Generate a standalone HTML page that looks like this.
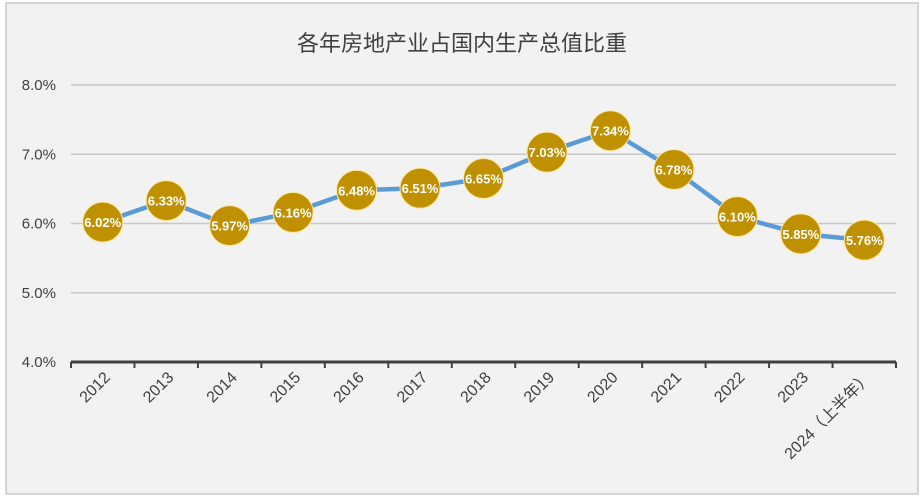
<!DOCTYPE html>
<html><head><meta charset="utf-8"><style>
body{margin:0;background:#fff;}
svg{display:block;font-family:"Liberation Sans","Noto Sans CJK SC",sans-serif;}
</style></head><body>
<svg id="chart" width="924" height="501">
<rect x="6" y="3" width="912" height="491" fill="#F2F2F2" stroke="#C8C8C8" stroke-width="1.5"/>
<text x="462" y="51" text-anchor="middle" font-size="22" fill="#404040">各年房地产业占国内生产总值比重</text>
<g id="grid"></g><g id="axes"></g><g id="series"></g>
</svg>
<script>
const categories=["2012","2013","2014","2015","2016","2017","2018","2019","2020","2021","2022","2023","2024（上半年）"];
const values=[6.02,6.33,5.97,6.16,6.48,6.51,6.65,7.03,7.34,6.78,6.10,5.85,5.76];
const yTicks=[4,5,6,7,8];
const ns="http://www.w3.org/2000/svg";
const x0=71,x1=896,yTop=85,yBot=362,yMin=4,yMax=8;
const band=(x1-x0)/categories.length;
const X=i=>x0+band*(i+0.5);
const Y=v=>yBot-(v-yMin)/(yMax-yMin)*(yBot-yTop);
function mk(t,a,p){const e=document.createElementNS(ns,t);for(const k in a)e.setAttribute(k,a[k]);p.appendChild(e);return e;}
const grid=document.getElementById('grid'),axes=document.getElementById('axes'),ser=document.getElementById('series');
yTicks.forEach(v=>{
 if(v>yMin){const l=mk('line',{x1:x0,x2:x1,y1:Y(v),y2:Y(v),stroke:'#C8C8C8','stroke-width':1.5},grid);
 
 }
 const t=mk('text',{x:56,y:Y(v)+5,'text-anchor':'end','font-size':15,fill:'#404040'},axes);
 t.textContent=v.toFixed(1)+'%';
 
 
});
const ax=mk('line',{x1:x0,x2:x1,y1:yBot,y2:yBot,stroke:'#404040','stroke-width':3},axes);


for(let i=0;i<=categories.length;i++){
 const tk=mk('line',{x1:x0+band*i,x2:x0+band*i,y1:yBot,y2:yBot+6,stroke:'#404040','stroke-width':2},axes);
 
 
}
categories.forEach((c,i)=>{
 const cx=X(i)+1,cy=yBot+9;
 const t=mk('text',{x:cx,y:cy,'text-anchor':'end','font-size':16,fill:'#404040',transform:`rotate(-45 ${cx} ${cy})`,'dominant-baseline':'hanging'},axes);
 t.textContent=c;
 
 
});
const pl=mk('polyline',{points:values.map((v,i)=>X(i)+','+Y(v)).join(' '),fill:'none',stroke:'#5B9BD5','stroke-width':4.5,'stroke-linejoin':'round'},ser);


values.forEach((v,i)=>{
 const c=mk('circle',{cx:X(i),cy:Y(v),r:20,fill:'#BF9000',stroke:'#FFE699','stroke-width':1},ser);
 
 
 const t=mk('text',{x:X(i),y:Y(v)+5,'text-anchor':'middle','font-size':13,'font-weight':'bold',fill:'#fff'},ser);
 t.textContent=v.toFixed(2)+'%';
 
 
});
</script>
</body></html>
